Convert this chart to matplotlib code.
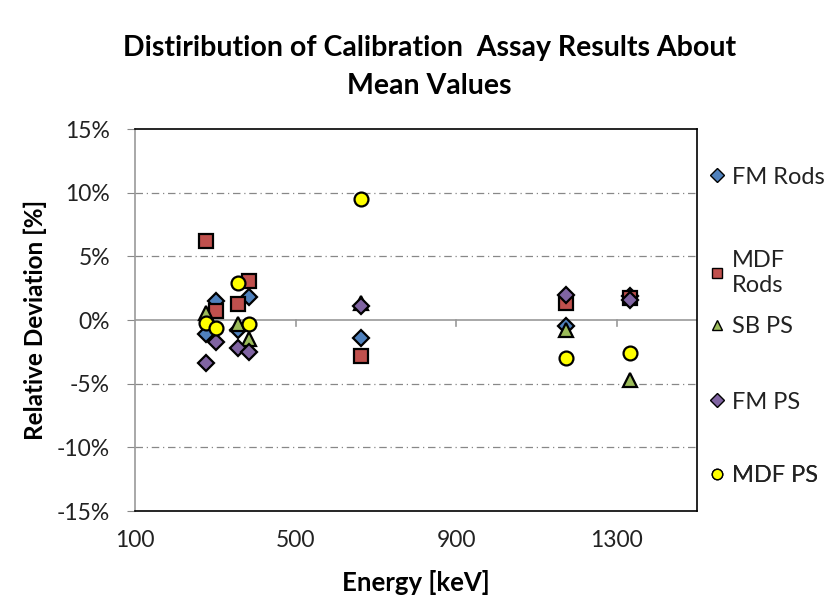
import numpy as np
import matplotlib
matplotlib.use('Agg')
import matplotlib.pyplot as plt
from matplotlib.ticker import FuncFormatter

plt.rcParams['font.family'] = ['Lato', 'DejaVu Sans']

# 能量点 (keV)
energy = [276, 303, 356, 384, 662, 1173, 1332]

# 各系列相对偏差 (%)，NaN 表示该点无数据
fm_rods = [-1.08, 1.5, -0.8, 1.8, -1.44, -0.5, 1.9]
mdf_rods = [6.2, 0.7, 1.23, 3.07, -2.83, 1.36, 1.7]
sb_ps = [0.57, np.nan, -0.34, -1.52, 1.3, -0.8, -4.75]
fm_ps = [-3.36, -1.7, -2.18, -2.52, 1.1, 1.94, 1.55]
mdf_ps = [-0.26, -0.6, 2.9, -0.34, 9.5, -2.97, -2.57]

series_names = ['FM Rods', 'MDF\nRods', 'SB PS', 'FM PS', 'MDF PS']
x_ticks = [100, 500, 900, 1300]
y_ticks = [-15, -10, -5, 0, 5, 10, 15]

fig = plt.figure(figsize=(8.38, 6.0), dpi=100)
ax = fig.add_axes([0.1611, 0.1483, 0.6706, 0.6367])

styles = [
    dict(marker='D', color='#4F81BD', ms=8.5),
    dict(marker='s', color='#C0504D', ms=9.5),
    dict(marker='^', color='#9BBB59', ms=10),
    dict(marker='D', color='#8064A2', ms=8.5),
    dict(marker='o', color='#FFFF00', ms=10),
]
all_data = [fm_rods, mdf_rods, sb_ps, fm_ps, mdf_ps]
handles = []
for name, vals, st in zip(series_names, all_data, styles):
    h, = ax.plot(energy, vals, linestyle='none', marker=st['marker'],
                 markerfacecolor=st['color'], markeredgecolor='black',
                 markeredgewidth=1.6, markersize=st['ms'], label=name, zorder=3)
    handles.append(h)

ax.set_xlim(100, 1500)
ax.set_ylim(-15, 15)
ax.set_xticks(x_ticks)
ax.set_yticks(y_ticks)
ax.yaxis.set_major_formatter(FuncFormatter(lambda v, p: f'{v:.0f}%'))
ax.tick_params(axis='x', length=0, labelsize=16.5, pad=14, labelcolor='#222222')
ax.tick_params(axis='y', length=6, direction='out', color='#888888', labelsize=16.5,
               pad=12, labelcolor='#222222')

# 网格线：点划线，0% 处为实线
for yv in [-10, -5, 5, 10]:
    ax.axhline(yv, color='#888888', linestyle='-.', linewidth=0.9, dashes=(6, 3, 1, 3), zorder=1)
ax.axhline(0, color='#999999', linewidth=1.2, zorder=1)
for xv in x_ticks[1:]:
    ax.plot([xv, xv], [-0.5, 0], color='#999999', linewidth=1.2, zorder=1)

for side in ['top', 'right', 'bottom']:
    ax.spines[side].set_color('black')
    ax.spines[side].set_linewidth(1.2)
ax.spines['left'].set_color('#999999')
ax.spines['left'].set_linewidth(1.2)

ax.set_xlabel('Energy [keV]', fontsize=18.5, fontweight='bold', labelpad=13)
ax.set_ylabel('Relative Deviation [%]', fontsize=17.5, fontweight='bold')
ax.yaxis.set_label_coords(-0.156, 0.5)

fig.text(0.5125, 0.942, 'Distiribution of Calibration  Assay Results About\nMean Values',
         ha='center', va='top', fontsize=20.5, fontweight='bold', linespacing=1.6,
         multialignment='center')

# 图例：每项单独放置，间距与原图一致
legend_y = [0.874, 0.623, 0.482, 0.285, 0.092]
for h, name, ly in zip(handles, series_names, legend_y):
    lg = ax.legend([h], [name], loc='center left', bbox_to_anchor=(1.019, ly),
                   frameon=False, fontsize=17, handletextpad=0.22, handlelength=0.8,
                   borderpad=0, borderaxespad=0, labelcolor='#222222')
    for lh in lg.legend_handles:
        lh.set_markeredgewidth(1.0)
        lh.set_markersize(7.5)
    ax.add_artist(lg)

fig.savefig('out.png', dpi=100)
